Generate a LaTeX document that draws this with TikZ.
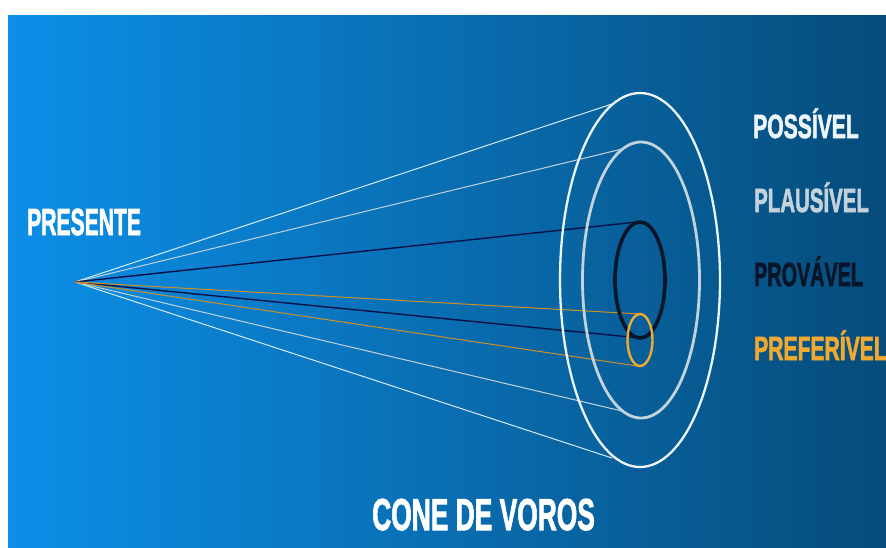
\documentclass[tikz,border=0pt]{standalone}
\usepackage{fontspec}
\usepackage{graphicx}
\newfontfamily\condfont{Liberation Sans}[FakeBold=2.2]
\definecolor{bgleft}{RGB}{12,143,232}
\definecolor{bgright}{RGB}{6,76,122}
\definecolor{possc}{RGB}{236,246,252}
\definecolor{plauc}{RGB}{196,210,220}
\definecolor{provc}{RGB}{8,20,40}
\definecolor{prefc}{RGB}{240,170,50}
\newcommand\sqz[2]{\scalebox{#1}[1]{#2}}
\tikzset{
  lbl/.style={anchor=base west, inner sep=0pt, font=\condfont\bfseries\fontsize{33.5}{33.5}\selectfont},
  ring/.style={line width=#1},
  ray/.style={line width=1pt},
}
\begin{document}
\begin{tikzpicture}[x=1pt,y=-1pt]
\useasboundingbox (0,0) rectangle (886,547);
\fill[white] (0,0) rectangle (886,547);
\shade[left color=bgleft, right color=bgright] (8,15) rectangle (886,547);

% apex and ellipse ends
\coordinate (apex) at (75,282);
\coordinate (oT) at (612,104);
\coordinate (oB) at (612,458);
\coordinate (gT) at (622,149);
\coordinate (gB) at (622,411);
\coordinate (kT) at (637,222);
\coordinate (kB) at (640,338);
\coordinate (yT) at (640,314);
\coordinate (yB) at (637,366);

% rays
\draw[ray, possc!90!bgleft] (apex) -- (oT);
\draw[ray, possc!90!bgleft] (apex) -- (oB);
\draw[ray, plauc] (apex) -- (gT);
\draw[ray, plauc] (apex) -- (gB);
\draw[line width=1.4pt, provc!85!blue] (apex) -- (kT);
\draw[line width=1.4pt, provc!85!blue] (apex) -- (kB);
\draw[ray, prefc!85!black] (apex) -- (yT);
\draw[ray, prefc!85!black] (apex) -- (yB);

% ellipses
\draw[ring=2.3pt, possc] (640,280) ellipse [x radius=80, y radius=187];
\draw[ring=2.8pt, plauc] (641,280) ellipse [x radius=58.5, y radius=138];
\draw[ring=3.6pt, provc] (640,280) ellipse [x radius=25, y radius=58];
\draw[ring=2.4pt, prefc] (640,340) ellipse [x radius=12.5, y radius=26];

% labels
\node[lbl, white, font=\condfont\bfseries\fontsize{37.7}{37.7}\selectfont] (presente) at (27,235) {\sqz{0.56}{PRESENTE}};
\node[lbl, possc] (poss) at (753,138) {\sqz{0.63}{POSSÍVEL}};
\node[lbl, plauc] (plau) at (754,212) {\sqz{0.61}{PLAUSÍVEL}};
\node[lbl, provc] (prov) at (754,286) {\sqz{0.59}{PROVÁVEL}};
\node[lbl, prefc] (pref) at (754,360) {\sqz{0.63}{PREFERÍVEL}};
\node[lbl, white, font=\condfont\bfseries\fontsize{44.7}{44.7}\selectfont] (title) at (372,530) {\sqz{0.59}{CONE DE VOROS}};
\end{tikzpicture}
\end{document}
